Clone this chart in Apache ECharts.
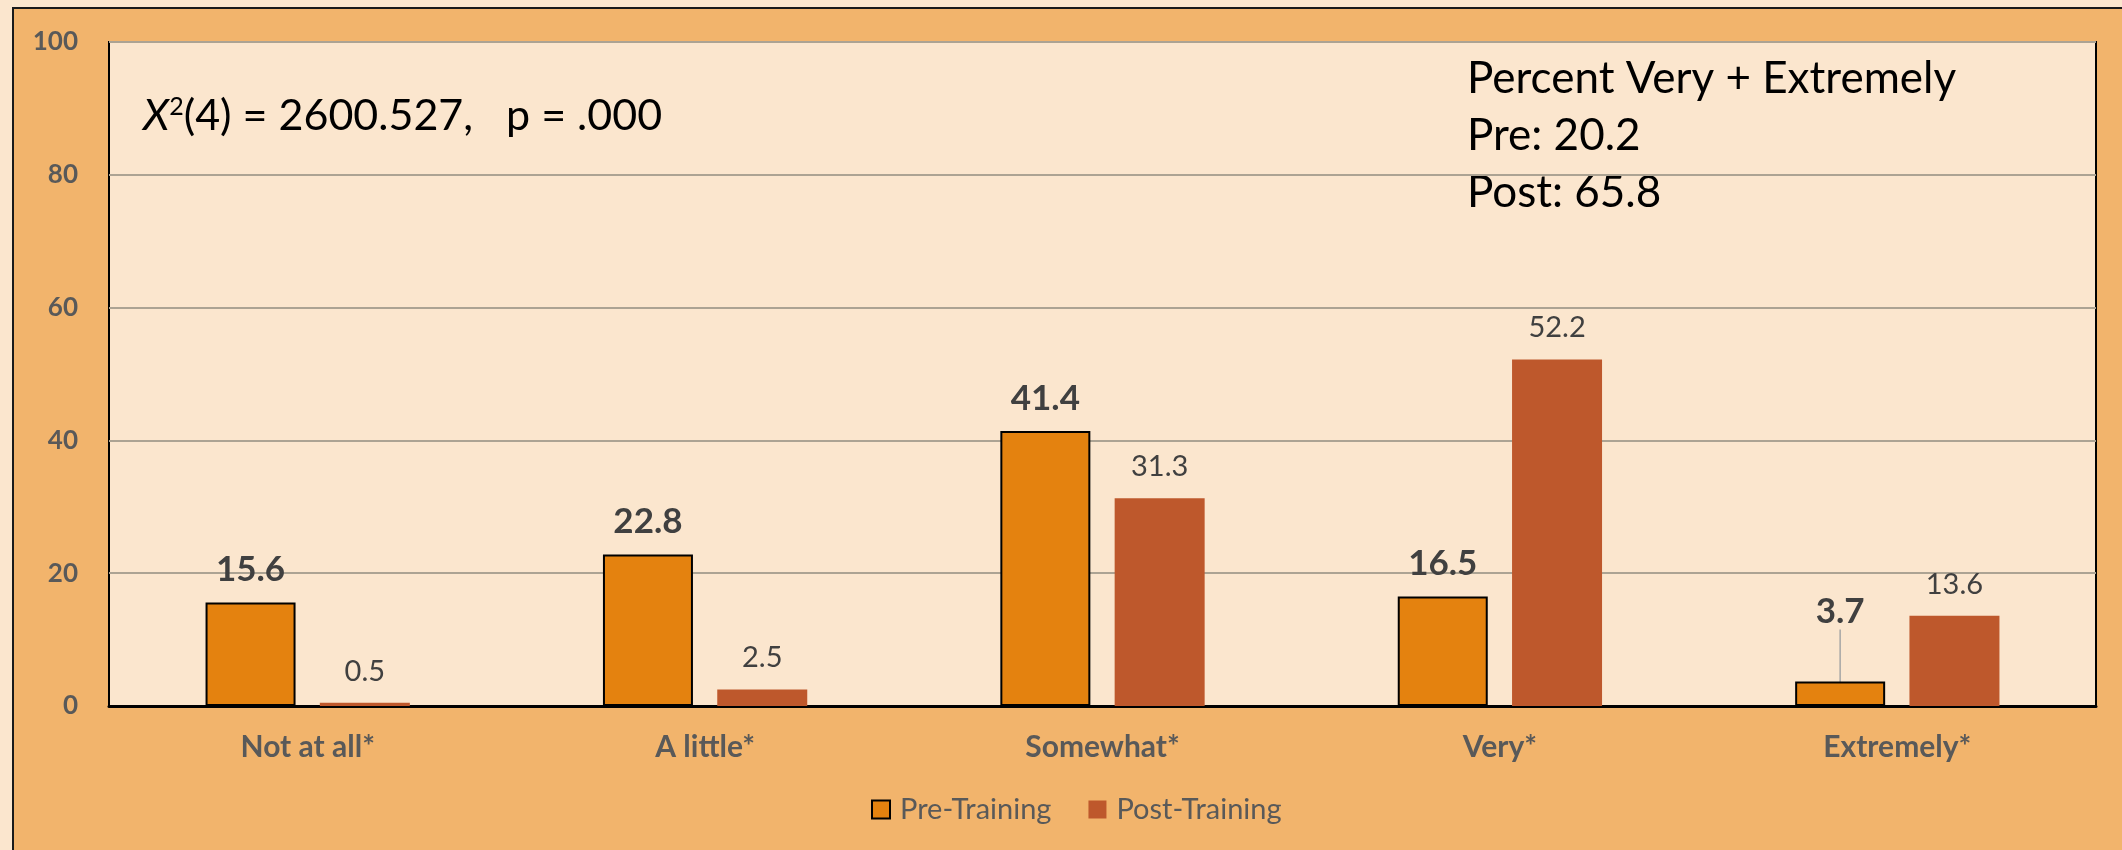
<!DOCTYPE html>
<html>
<head>
<meta charset="utf-8">
<script src="https://cdn.jsdelivr.net/npm/echarts@6/dist/echarts.min.js"></script>
<style>
  html, body { margin: 0; padding: 0; background: #fbe6ce; }
  #chart { width: 2122px; height: 850px; }
</style>
</head>
<body>
<div id="chart"></div>
<script>
const categories = ['Not at all*', 'A little*', 'Somewhat*', 'Very*', 'Extremely*']
const preTraining = [15.6, 22.8, 41.4, 16.5, 3.7]
const postTraining = [0.5, 2.5, 31.3, 52.2, 13.6]
const seriesNames = ['Pre-Training', 'Post-Training']
const summaryLines = ['Percent Very + Extremely', 'Pre: 20.2', 'Post: 65.8']
const statText = '(4) = 2600.527,   p = .000'

const FONT = 'Lato, "Noto Sans", sans-serif'

// the 3.7 label sits higher with a leader line, as in the original
const preData = preTraining.map((v, i) => i === 4
  ? { value: v, labelLine: { show: true, lineStyle: { color: '#a6a6a6', width: 1.5 } } }
  : v)

const chart = echarts.init(document.getElementById('chart'))

chart.setOption({
  backgroundColor: '#fbe6ce',
  animation: false,
  textStyle: { fontFamily: FONT },
  grid: {
    left: 109,
    right: 26,
    top: 42,
    bottom: 144,
    show: true,
    backgroundColor: '#fbe6ce',
    borderColor: '#000',
    borderWidth: 2
  },
  legend: {
    left: 866,
    top: 790,
    itemWidth: 18,
    itemHeight: 18,
    itemGap: 37,
    icon: 'rect',
    textStyle: { color: '#595959', fontSize: 29, padding: [0, 0, 0, 5] },
    data: seriesNames
  },
  xAxis: {
    type: 'category',
    data: categories,
    axisLine: { lineStyle: { color: '#000', width: 3 } },
    axisTick: { show: false },
    axisLabel: { color: '#595959', fontSize: 30, fontWeight: 'bold', margin: 26 }
  },
  yAxis: {
    type: 'value',
    min: 0,
    max: 100,
    interval: 20,
    axisLine: { show: false },
    axisTick: { show: false },
    axisLabel: { color: '#595959', fontSize: 26, fontWeight: 'bold', margin: 31 },
    splitLine: { lineStyle: { color: '#aca393', width: 2 } }
  },
  graphic: {
    elements: [
      {
        type: 'rect',
        z: -100,
        shape: { x: 13, y: 8, width: 2300, height: 1000 },
        style: { fill: '#f2b46c', stroke: '#1a1a1a', lineWidth: 2 }
      },
      {
        type: 'text',
        left: 143,
        top: 94,
        style: {
          text: '{i|X}{sup|2}{n|' + statText + '}',
          rich: {
            i: { fontSize: 43, fontStyle: 'italic', fill: '#000', fontFamily: FONT },
            sup: { fontSize: 25, fill: '#000', verticalAlign: 'top', padding: [0, 0, 20, 0], fontFamily: FONT },
            n: { fontSize: 43, fill: '#000', fontFamily: FONT }
          }
        }
      },
      {
        type: 'text',
        left: 1467,
        top: 50,
        style: {
          text: summaryLines.join('\n'),
          fontSize: 44,
          lineHeight: 57,
          fill: '#000',
          fontFamily: FONT
        }
      }
    ]
  },
  series: [
    {
      name: seriesNames[0],
      type: 'bar',
      barWidth: 90,
      barGap: '27%',
      itemStyle: { color: '#e4820f', borderColor: '#000', borderWidth: 2 },
      label: {
        show: true,
        position: 'top',
        distance: 15,
        color: '#404040',
        fontSize: 35,
        fontWeight: 'bold'
      },
      labelLayout: params => (params.dataIndex === 4 ? { dy: -37 } : {}),
      data: preData
    },
    {
      name: seriesNames[1],
      type: 'bar',
      barWidth: 90,
      itemStyle: { color: '#be582c' },
      label: {
        show: true,
        position: 'top',
        distance: 17,
        color: '#404040',
        fontSize: 29
      },
      data: postTraining
    }
  ]
})
</script>
</body>
</html>
